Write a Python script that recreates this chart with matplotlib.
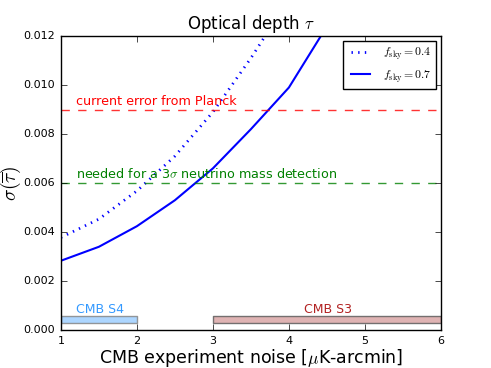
import numpy as np
import matplotlib
matplotlib.use('Agg')
import matplotlib.pyplot as plt

# --- dados ---
noise = [1.0, 1.5, 2.0, 2.5, 3.0, 3.5, 4.0, 4.5]
sigma_fsky04 = [0.00378, 0.00453, 0.00568, 0.0071, 0.0089, 0.0111, 0.0135, 0.0162]
sigma_fsky07 = [0.00283, 0.0034, 0.00424, 0.0053, 0.0066, 0.0082, 0.0099, 0.0124]

planck_err = 0.009
nu_mass_err = 0.006

s4_range = (1.0, 2.0)
s3_range = (3.0, 6.0)
band_y = (0.0003, 0.00056)

plt.style.use('classic')
plt.rcParams['figure.facecolor'] = 'white'
plt.rcParams['savefig.facecolor'] = 'white'

fig = plt.figure(figsize=(4.91, 3.68), dpi=100)
ax = fig.add_axes([0.124, 0.103, 0.774, 0.799])

ax.plot(noise, sigma_fsky04, color='blue', ls=(0, (1.0, 3.8)), lw=2, label=r'$f_{\rm sky}=0.4$')
ax.plot(noise, sigma_fsky07, color='blue', ls='-', lw=1.5, label=r'$f_{\rm sky}=0.7$')

ax.axhline(planck_err, color='red', ls='--', lw=1, alpha=0.8)
ax.axhline(nu_mass_err, color='green', ls='--', lw=1, alpha=0.8)
ax.text(1.2, planck_err + 0.0002, 'current error from Planck', color='red', fontsize=9.2)
ax.text(1.2, nu_mass_err + 0.0002, r'needed for a 3$\sigma$ neutrino mass detection',
        color='green', fontsize=9.2)

# barras das experiências
ax.fill_between(s4_range, band_y[0], band_y[1], facecolor='#99ccff', edgecolor='gray', alpha=0.8)
ax.fill_between(s3_range, band_y[0], band_y[1], facecolor='#d8a0a0', edgecolor='#555555', alpha=0.8)
ax.text(1.2, 0.0007, 'CMB S4', color='#3399ff', fontsize=9)
ax.text(4.2, 0.0007, 'CMB S3', color='#b22222', fontsize=9)

ax.set_xlim(1, 6)
ax.set_ylim(0, 0.012)
ax.set_yticks(np.arange(0, 0.0121, 0.002))
ax.tick_params(labelsize=8)
ax.set_title(r'Optical depth $\tau$', fontsize=12)
ax.set_xlabel(r'CMB experiment noise [$\mu$K-arcmin]', fontsize=12.5, labelpad=1)
ax.set_ylabel(r'$\sigma(\overline{\tau})$', fontsize=14)
ax.yaxis.set_label_coords(-0.1, 0.5)
ax.legend(loc='upper right', fontsize=8.5, handlelength=2.2, borderaxespad=0.4)

fig.savefig('out.png', dpi=100)
